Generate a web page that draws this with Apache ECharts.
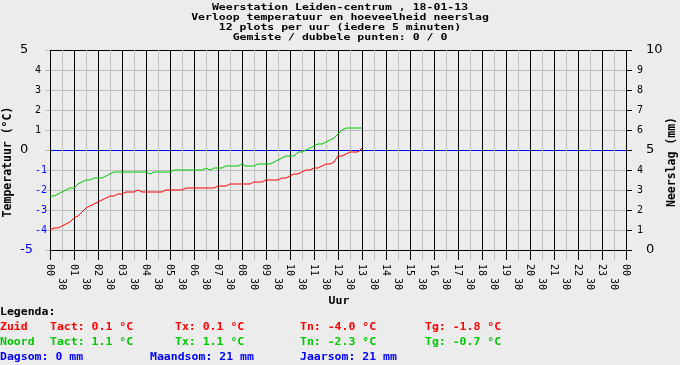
<!DOCTYPE html>
<html>
<head>
<meta charset="utf-8">
<script src="https://cdn.jsdelivr.net/npm/echarts@6/dist/echarts.min.js"></script>
<style>
html,body{margin:0;padding:0;background:#ececec;}
#chart{width:680px;height:365px;}
</style>
</head>
<body>
<div id="chart"></div>
<script>
// ---- Data ----
const titleLines = [
  'Weerstation Leiden-centrum , 18-01-13',
  'Verloop temperatuur en hoeveelheid neerslag',
  '12 plots per uur (iedere 5 minuten)',
  'Gemiste / dubbele punten: 0 / 0'
];
const hourLabels = ['00','01','02','03','04','05','06','07','08','09','10','11','12','13','14','15','16','17','18','19','20','21','22','23','00'];
const halfLabel = '30';
const slotsPerHour = 12; // 5-minute slots
const slots = [];
for (let h = 0; h < 24; h++) for (let m = 0; m < 60; m += 5) slots.push(hourLabels[h] + ':' + String(m).padStart(2, '0'));
slots.push('24:00');

const tempTicksLeft = [-5,-4,-3,-2,-1,0,1,2,3,4,5];

// Zuid (red), every 5 minutes from 00:00
const zuid = [
 -4.0,-4.0,-3.9,-3.9,-3.9,-3.9,-3.8,-3.8,-3.7,-3.7,
 -3.6,-3.5,-3.4,-3.3,-3.3,-3.2,-3.1,-3.0,-2.9,-2.8,
 -2.8,-2.7,-2.7,-2.6,-2.6,-2.6,-2.5,-2.5,-2.4,-2.4,
 -2.3,-2.3,-2.3,-2.2,-2.2,-2.2,-2.2,-2.1,-2.1,-2.1,
 -2.1,-2.1,-2.1,-2.0,-2.0,-2.1,-2.1,-2.1,-2.1,-2.1,
 -2.1,-2.1,-2.1,-2.1,-2.1,-2.1,-2.1,-2.0,-2.0,-2.0,
 -2.0,-2.0,-2.0,-2.0,-2.0,-2.0,-2.0,-1.9,-1.9,-1.9,
 -1.9,-1.9,-1.9,-1.9,-1.9,-1.9,-1.9,-1.9,-1.9,-1.8,
 -1.9,-1.9,-1.9,-1.8,-1.8,-1.8,-1.8,-1.8,-1.8,-1.8,
 -1.7,-1.7,-1.7,-1.7,-1.7,-1.7,-1.7,-1.7,-1.7,-1.6,
 -1.7,-1.7,-1.6,-1.6,-1.6,-1.6,-1.6,-1.6,-1.5,-1.5,
 -1.5,-1.5,-1.5,-1.5,-1.5,-1.4,-1.4,-1.4,-1.4,-1.3,
 -1.3,-1.3,-1.2,-1.2,-1.2,-1.2,-1.1,-1.0,-1.0,-1.0,
 -1.0,-1.0,-0.9,-0.9,-0.9,-0.8,-0.8,-0.7,-0.7,-0.7,
 -0.7,-0.6,-0.6,-0.5,-0.3,-0.3,-0.3,-0.2,-0.2,-0.2,
 -0.1,-0.1,-0.1,-0.1,-0.1,0.0,0.1
];
// Noord (green)
const noord = [
 -2.3,-2.3,-2.3,-2.3,-2.2,-2.2,-2.1,-2.1,-2.0,-2.0,
 -1.9,-1.9,-1.9,-1.8,-1.7,-1.6,-1.6,-1.5,-1.5,-1.5,
 -1.5,-1.5,-1.4,-1.4,-1.4,-1.4,-1.4,-1.3,-1.3,-1.3,
 -1.2,-1.2,-1.1,-1.2,-1.1,-1.1,-1.1,-1.1,-1.1,-1.1,
 -1.1,-1.1,-1.1,-1.1,-1.1,-1.1,-1.1,-1.1,-1.1,-1.1,
 -1.2,-1.1,-1.1,-1.1,-1.1,-1.1,-1.1,-1.1,-1.1,-1.1,
 -1.1,-1.1,-1.0,-1.0,-1.0,-1.0,-1.0,-1.1,-1.0,-1.0,
 -1.0,-1.0,-1.0,-1.0,-1.0,-1.0,-1.0,-1.0,-0.9,-1.0,
 -1.0,-0.9,-0.9,-0.9,-0.9,-0.8,-0.9,-0.8,-0.8,-0.8,
 -0.8,-0.8,-0.8,-0.8,-0.8,-0.8,-0.7,-0.8,-0.8,-0.8,
 -0.8,-0.8,-0.8,-0.8,-0.7,-0.7,-0.7,-0.7,-0.7,-0.7,
 -0.7,-0.7,-0.6,-0.6,-0.5,-0.5,-0.4,-0.4,-0.3,-0.3,
 -0.3,-0.3,-0.3,-0.2,-0.1,0.0,-0.1,0.0,0.0,0.1,
 0.1,0.2,0.2,0.2,0.3,0.3,0.3,0.4,0.4,0.4,
 0.5,0.5,0.6,0.6,0.8,0.9,1.0,1.0,1.1,1.1,
 1.1,1.1,1.1,1.0,1.1,1.1,1.1
];

const legendTitle = 'Legenda:';
const zuidRow = ['Zuid', 'Tact: 0.1 °C', 'Tx: 0.1 °C', 'Tn: -4.0 °C', 'Tg: -1.8 °C'];
const noordRow = ['Noord', 'Tact: 1.1 °C', 'Tx: 1.1 °C', 'Tn: -2.3 °C', 'Tg: -0.7 °C'];
const sumRow = ['Dagsom: 0 mm', 'Maandsom: 21 mm', 'Jaarsom: 21 mm'];

// ---- Styles ----
const BG = '#ececec', GRAY = '#bebebe', RED = '#ff0000', GREEN = '#00c800', BLUE = '#0000ff';
const MONO = '"DejaVu Sans Mono", monospace';
const BOLD = 'bold 11.5px ' + MONO;

const chart = echarts.init(document.getElementById('chart'), null, {renderer: 'canvas'});

function txt(x, y, text, color, rot) {
  const el = {
    type: 'text', x: x, y: y, silent: true, scaleY: 0.88,
    style: {text: text, font: BOLD, fill: color, align: rot ? 'center' : 'left', verticalAlign: 'middle'}
  };
  if (rot) { el.rotation = rot; el.scaleY = 1; el.scaleX = 1; }
  return el;
}

const rowX = [0, 50, 175, 300, 425];
const graphics = [];
titleLines.forEach((t, i) => graphics.push({type: 'text', x: 340, y: 7.5 + i * 10, silent: true, scaleY: 0.82,
  style: {text: t, font: BOLD, fill: '#000', align: 'center', verticalAlign: 'middle'}}));
graphics.push(txt(8, 162, 'Temperatuur (°C)', '#000', Math.PI / 2));
graphics.push(txt(672, 162, 'Neerslag (mm)', '#000', Math.PI / 2));
graphics.push({type: 'text', x: 339, y: 301, silent: true, scaleY: 0.88, style: {text: 'Uur', font: BOLD, fill: '#000', align: 'center', verticalAlign: 'middle'}});
graphics.push(txt(0, 312.5, legendTitle, '#000'));
zuidRow.forEach((t, i) => graphics.push(txt(rowX[i], 327, t, RED)));
noordRow.forEach((t, i) => graphics.push(txt(rowX[i], 342, t, GREEN)));
const sumX = [0, 150, 300];
sumRow.forEach((t, i) => graphics.push(txt(sumX[i], 357, t, BLUE)));

const hourSel = (i) => i % slotsPerHour === 0;
const halfSel = (i) => i % slotsPerHour === slotsPerHour / 2;

const yColors = tempTicksLeft.map(v => v === 0 ? BLUE : (Math.abs(v) === 5 ? '#000' : GRAY));

const option = {
  backgroundColor: BG,
  animation: false,
  grid: {left: 50, right: 54, top: 50, bottom: 115, containLabel: false},
  xAxis: [
    {
      type: 'category', data: slots, boundaryGap: false, z: 1,
      axisLine: {show: true, onZero: false, lineStyle: {color: '#000', width: 1}},
      axisTick: {show: true, interval: hourSel, length: 10, lineStyle: {color: '#000', width: 1}},
      axisLabel: {show: true, interval: hourSel, rotate: -90, margin: 14,
        formatter: (v, i) => hourLabels[Math.round(i / slotsPerHour)],
        fontFamily: MONO, fontSize: 10, color: '#000'},
      splitLine: {show: true, interval: hourSel, lineStyle: {color: '#000', width: 1}}
    },
    {
      type: 'category', data: slots, boundaryGap: false, position: 'bottom', z: 0,
      axisLine: {show: false, onZero: false},
      axisTick: {show: true, interval: halfSel, length: 10, lineStyle: {color: GRAY, width: 1}},
      axisLabel: {show: true, interval: halfSel, rotate: -90, margin: 28,
        formatter: () => halfLabel, fontFamily: MONO, fontSize: 10, color: '#000'},
      splitLine: {show: true, interval: halfSel, lineStyle: {color: GRAY, width: 1}}
    }
  ],
  yAxis: [
    {
      type: 'value', min: -5, max: 5, interval: 1, position: 'left', z: 0,
      axisLine: {show: false},
      axisTick: {show: true, length: 5, lineStyle: {color: GRAY}},
      axisLabel: {
        margin: 30, align: 'left',
        formatter: (v) => {
          const big = (v === 0 || Math.abs(v) === 5);
          const blue = v < 0;
          return '{' + (big ? 'b' : 's') + (blue ? 'u' : 'k') + '|' + v + '}';
        },
        rich: {
          bk: {fontFamily: '"DejaVu Sans", sans-serif', fontSize: 13, color: '#000'},
          bu: {fontFamily: '"DejaVu Sans", sans-serif', fontSize: 13, color: BLUE},
          sk: {fontFamily: MONO, fontSize: 10, color: '#000', padding: [0, 0, 0, 15]},
          su: {fontFamily: MONO, fontSize: 10, color: BLUE, padding: [0, 0, 0, 15]}
        }
      },
      splitLine: {show: true, lineStyle: {color: yColors, width: 1}}
    },
    {
      type: 'value', min: 0, max: 10, interval: 1, position: 'right',
      axisLine: {show: false},
      axisTick: {show: true, length: 6, lineStyle: {color: '#000'}},
      axisLabel: {
        margin: 11,
        formatter: (v) => (v % 5 === 0 ? '{b|' + v + '}' : '{s|' + v + '}'),
        rich: {
          b: {fontFamily: '"DejaVu Sans", sans-serif', fontSize: 13, color: '#000', padding: [0, 0, 0, 9]},
          s: {fontFamily: MONO, fontSize: 10, color: '#000'}
        }
      },
      splitLine: {show: false}
    }
  ],
  series: [
    {name: 'Zuid', type: 'line', xAxisIndex: 0, yAxisIndex: 0, data: zuid, showSymbol: false, symbol: 'none',
     z: 3, lineStyle: {color: RED, width: 1}, itemStyle: {color: RED}},
    {name: 'Noord', type: 'line', xAxisIndex: 0, yAxisIndex: 0, data: noord, showSymbol: false, symbol: 'none',
     z: 3, lineStyle: {color: GREEN, width: 1}, itemStyle: {color: GREEN}}
  ],
  graphic: graphics
};
chart.setOption(option);
</script>
</body>
</html>
